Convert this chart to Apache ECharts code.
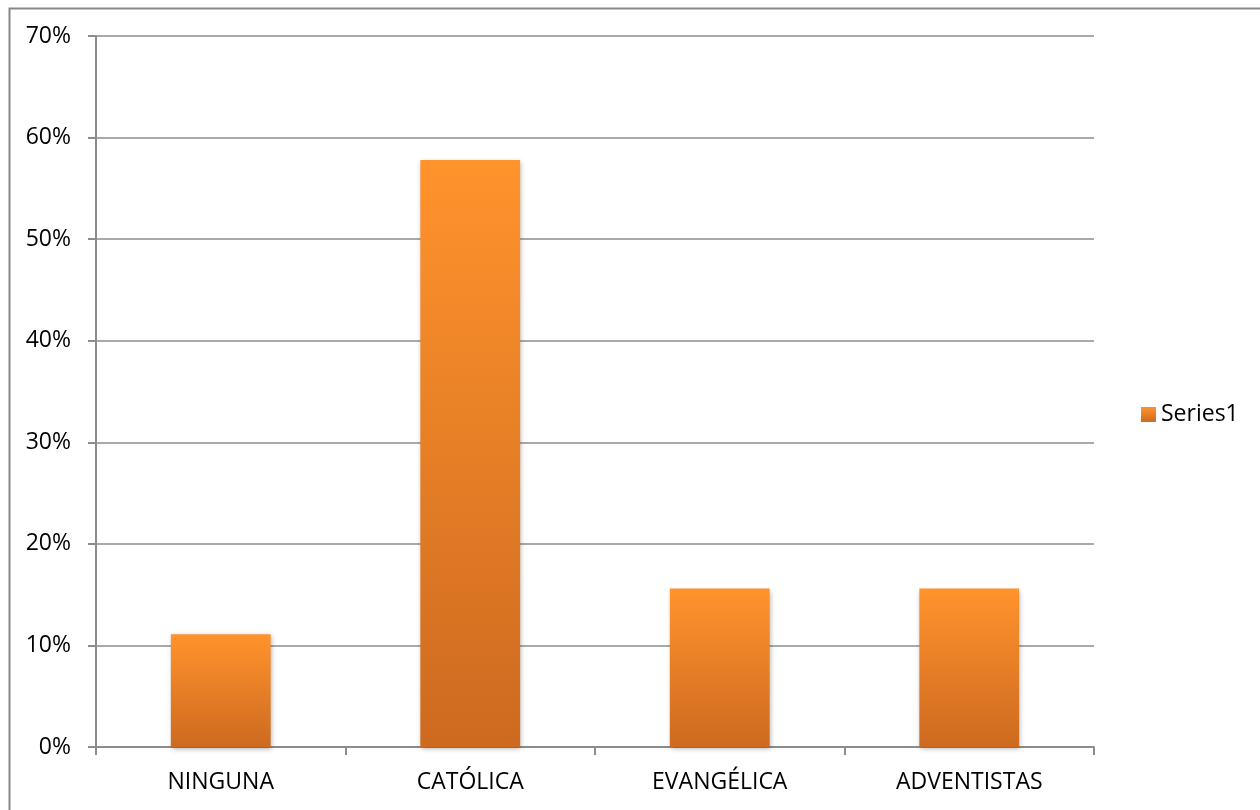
<!DOCTYPE html>
<html>
<head>
<meta charset="utf-8">
<script src="https://cdn.jsdelivr.net/npm/echarts@6/dist/echarts.min.js"></script>
<style>html,body{margin:0;padding:0;background:#fff;}#c{width:1260px;height:810px;}</style>
</head>
<body>
<div id="c"></div>
<script>
var categories = ['NINGUNA', 'CATÓLICA', 'EVANGÉLICA', 'ADVENTISTAS'];
var seriesName = 'Series1';
var values = [0.111, 0.578, 0.156, 0.156];
var yTicks = [0, 0.1, 0.2, 0.3, 0.4, 0.5, 0.6, 0.7];

var chart = echarts.init(document.getElementById('c'));
var font = '"Open Sans", "Noto Sans", sans-serif';
var grad = new echarts.graphic.LinearGradient(0, 0, 0, 1, [
  {offset: 0, color: '#FF932C'},
  {offset: 1, color: '#CD6A20'}
]);
chart.setOption({
  animation: false,
  graphic: [{
    type: 'rect', left: 7, top: 6,
    shape: {width: 1300, height: 900},
    style: {fill: 'none', stroke: '#888', lineWidth: 2},
    silent: true
  }],
  legend: {
    data: [seriesName],
    orient: 'vertical',
    left: 1136, top: 398,
    icon: 'rect', itemWidth: 15, itemHeight: 15, itemGap: 5,
    textStyle: {color: '#000', fontSize: 23, fontFamily: font}
  },
  grid: {left: 96, right: 166, top: 36, bottom: 63},
  xAxis: {
    type: 'category',
    data: categories,
    axisLine: {lineStyle: {color: '#8c8c8c', width: 2}},
    axisTick: {show: true, length: 8, lineStyle: {color: '#8c8c8c', width: 2}},
    axisLabel: {color: '#000', fontSize: 23, fontFamily: font, margin: 24}
  },
  yAxis: {
    type: 'value', min: 0, max: 0.7, interval: 0.1,
    axisLine: {show: true, lineStyle: {color: '#8c8c8c', width: 2}},
    axisTick: {show: true, length: 8, lineStyle: {color: '#8c8c8c', width: 2}},
    splitLine: {lineStyle: {color: '#8c8c8c', width: 1.5}},
    axisLabel: {
      color: '#000', fontSize: 23, fontFamily: font, margin: 25,
      formatter: function (v) { return Math.round(v * 100) + '%'; }
    }
  },
  series: [{
    name: seriesName,
    type: 'bar',
    data: values,
    barCategoryGap: '60%',
    itemStyle: {
      color: grad,
      shadowBlur: 5, shadowColor: 'rgba(0,0,0,0.3)', shadowOffsetY: 2, shadowOffsetX: 1
    }
  }]
});
</script>
</body>
</html>
